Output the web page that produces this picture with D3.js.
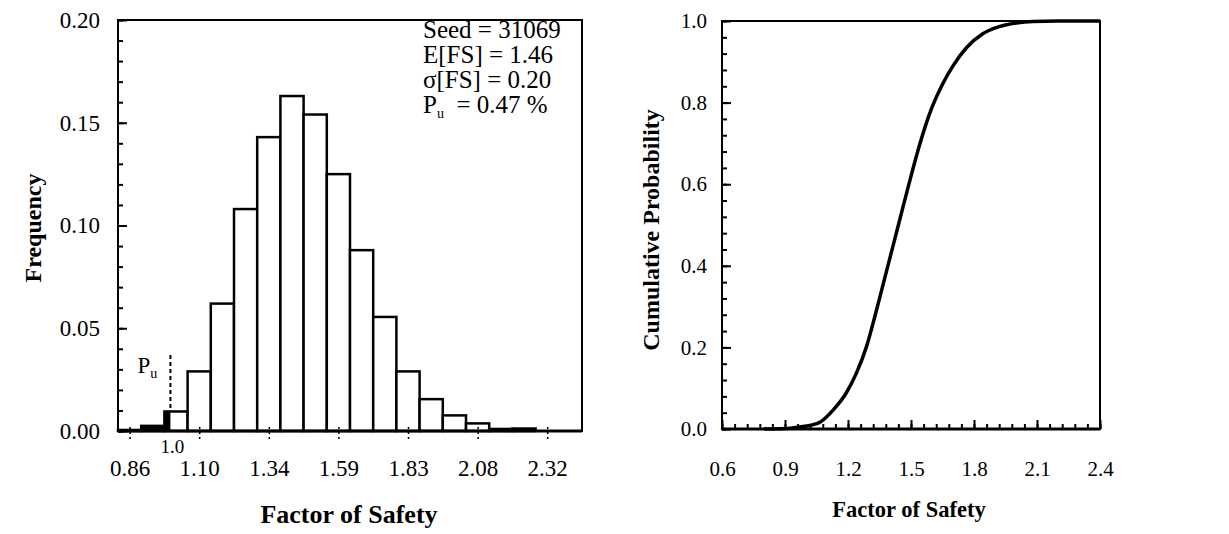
<!DOCTYPE html>
<html>
<head>
<meta charset="utf-8">
<script src="https://cdn.jsdelivr.net/npm/d3@7"></script>
<style>
body { margin: 0; background: #fff; }
text { font-family: "Liberation Serif", "Times New Roman", serif; fill: #000; }
</style>
</head>
<body>
<svg id="chart" width="1229" height="534"></svg>
<script>
// ---- histogram data (20 bins, labels on every 3rd bin centre) ----
var binStart = 0.8164;
var binWidth = 0.0813;
var binFreq = [0.0005, 0.0025, 0.0095, 0.029, 0.062, 0.108, 0.143, 0.163, 0.154, 0.125,
               0.088, 0.0555, 0.029, 0.0155, 0.0076, 0.0037, 0.0010, 0.0012, 0.0, 0.0];
var binTickIndex = [0, 3, 6, 9, 12, 15, 18];
var binTickLabels = ["0.86", "1.10", "1.34", "1.59", "1.83", "2.08", "2.32"];
var freqTicks = [0, 0.05, 0.10, 0.15, 0.20];
var statLines = ["Seed = 31069", "E[FS] = 1.46", "\u03c3[FS] = 0.20"];
var failFS = 1.0;

// ---- cumulative curve ----
var cdfFS   = [0.80, 0.90, 0.97, 1.03, 1.07, 1.13, 1.19, 1.24, 1.29, 1.33, 1.37, 1.40, 1.44,
               1.495, 1.54, 1.59, 1.65, 1.70, 1.765, 1.84, 1.92, 2.00, 2.08, 2.20, 2.40];
var cdfProb = [0.0, 0.001, 0.005, 0.010, 0.018, 0.047, 0.087, 0.137, 0.205, 0.28, 0.36, 0.42, 0.50,
               0.61, 0.695, 0.775, 0.845, 0.89, 0.935, 0.968, 0.986, 0.995, 0.999, 1.0, 1.0];
var cdfTicksX = [0.6, 0.9, 1.2, 1.5, 1.8, 2.1, 2.4];
var cdfTicksY = [0, 0.2, 0.4, 0.6, 0.8, 1.0];

var svg = d3.select("#chart");

drawHistogram();
drawCdf();

function drawHistogram() {
    var box = { left: 118, right: 582, top: 20, bottom: 431 };
    var x = d3.scaleLinear().domain([binStart, binStart + binFreq.length * binWidth]).range([box.left, box.right]);
    var y = d3.scaleLinear().domain([0, 0.2]).range([box.bottom, box.top]);
    var g = svg.append("g");

    // bars
    var bins = binFreq.map(function (f, i) {
        return { lo: binStart + i * binWidth, hi: binStart + (i + 1) * binWidth, f: f };
    });
    g.selectAll("rect.bar").data(bins).enter().append("rect")
        .attr("class", "bar")
        .attr("x", function (d) { return x(d.lo); })
        .attr("y", function (d) { return y(d.f); })
        .attr("width", function (d) { return x(d.hi) - x(d.lo); })
        .attr("height", function (d) { return y(0) - y(d.f); })
        .attr("fill", function (d) { return d.hi <= failFS ? "#000" : "#fff"; })
        .attr("stroke", "#000")
        .attr("stroke-width", 2.5);

    // black part of the bin that straddles FS = 1.0
    var cut = bins.filter(function (d) { return d.lo < failFS && d.hi > failFS; })[0];
    g.append("rect")
        .attr("x", x(cut.lo)).attr("y", y(cut.f))
        .attr("width", x(failFS) - x(cut.lo)).attr("height", y(0) - y(cut.f))
        .attr("fill", "#000");

    // frame
    g.append("rect")
        .attr("x", box.left).attr("y", box.top)
        .attr("width", box.right - box.left).attr("height", box.bottom - box.top)
        .attr("fill", "none").attr("stroke", "#000").attr("stroke-width", 2);
    g.append("line").attr("x1", box.left).attr("x2", box.right)
        .attr("y1", box.bottom).attr("y2", box.bottom)
        .attr("stroke", "#000").attr("stroke-width", 3);

    // y axis: majors every 0.05, minors every 0.01, pointing inside
    var yMinor = d3.range(0, 0.2001, 0.01);
    g.append("g").attr("transform", "translate(" + box.left + ",0)")
        .call(d3.axisLeft(y).tickValues(yMinor).tickSize(-5).tickFormat(""))
        .call(function (a) { a.select(".domain").remove(); a.selectAll("line").attr("stroke-width", 2); });
    g.append("g").attr("transform", "translate(" + box.left + ",0)")
        .call(d3.axisLeft(y).tickValues(freqTicks).tickSize(-9).tickPadding(18).tickFormat(d3.format(".2f")))
        .call(function (a) {
            a.select(".domain").remove();
            a.selectAll("line").attr("stroke-width", 2);
            a.selectAll("text").style("font-size", "23px").style("font-family", "Liberation Serif");
        });

    // x axis: dotted ticks at every third bin centre
    var tickVals = binTickIndex.map(function (i) { return binStart + (i + 0.5) * binWidth; });
    g.append("g").attr("transform", "translate(0," + box.bottom + ")")
        .call(d3.axisBottom(x).tickValues(tickVals).tickSize(9).tickPadding(20)
            .tickFormat(function (d, i) { return binTickLabels[i]; }))
        .call(function (a) {
            a.select(".domain").remove();
            a.selectAll("line").attr("y1", -4).attr("stroke-width", 1.5).attr("stroke-dasharray", "2,3");
            a.selectAll("text").style("font-size", "23px").style("font-family", "Liberation Serif");
        });

    // FS = 1.0 marker
    g.append("text").attr("x", x(failFS) + 2).attr("y", 453)
        .attr("text-anchor", "middle").style("font-size", "19px").text("1.0");
    g.append("line")
        .attr("x1", x(failFS)).attr("x2", x(failFS))
        .attr("y1", y(0.037)).attr("y2", y(cut.f))
        .attr("stroke", "#000").attr("stroke-width", 2).attr("stroke-dasharray", "4,3");
    var pu = g.append("text").attr("x", x(failFS) - 33).attr("y", y(0.028)).style("font-size", "23px");
    pu.append("tspan").text("P");
    pu.append("tspan").attr("dy", 5).style("font-size", "14px").text("u");

    // statistics block
    var stats = g.append("text").style("font-size", "25px");
    statLines.forEach(function (s, i) {
        stats.append("tspan").attr("x", 423).attr("y", 38 + i * 25).text(s);
    });
    var p = g.append("text").attr("x", 423).attr("y", 38 + 3 * 25).style("font-size", "25px");
    p.append("tspan").text("P");
    p.append("tspan").attr("dy", 5).style("font-size", "14px").text("u");
    p.append("tspan").attr("dy", -5).text(" \u00a0= 0.47 %");

    // axis titles
    g.append("text").attr("transform", "translate(41,228) rotate(-90)")
        .attr("text-anchor", "middle").style("font-size", "24px").style("font-weight", "bold").text("Frequency");
    g.append("text").attr("x", 349).attr("y", 523)
        .attr("text-anchor", "middle").style("font-size", "26px").style("font-weight", "bold").text("Factor of Safety");
}

function drawCdf() {
    var box = { left: 722, right: 1100, top: 21, bottom: 429 };
    var x = d3.scaleLinear().domain([0.6, 2.4]).range([box.left, box.right]);
    var y = d3.scaleLinear().domain([0, 1]).range([box.bottom, box.top]);
    var g = svg.append("g");

    g.append("rect")
        .attr("x", box.left).attr("y", box.top)
        .attr("width", box.right - box.left).attr("height", box.bottom - box.top)
        .attr("fill", "none").attr("stroke", "#000").attr("stroke-width", 2);

    // y axis
    g.append("g").attr("transform", "translate(" + box.left + ",0)")
        .call(d3.axisLeft(y).tickValues(d3.range(0, 1.0001, 0.04)).tickSize(-5).tickFormat(""))
        .call(function (a) { a.select(".domain").remove(); a.selectAll("line").attr("stroke-width", 2); });
    g.append("g").attr("transform", "translate(" + box.left + ",0)")
        .call(d3.axisLeft(y).tickValues(cdfTicksY).tickSize(-9).tickPadding(15).tickFormat(d3.format(".1f")))
        .call(function (a) {
            a.select(".domain").remove();
            a.selectAll("line").attr("stroke-width", 2);
            a.selectAll("text").style("font-size", "21px").style("font-family", "Liberation Serif");
        });

    // x axis
    g.append("g").attr("transform", "translate(0," + box.bottom + ")")
        .call(d3.axisBottom(x).tickValues(d3.range(0.6, 2.4001, 0.06)).tickSize(-5).tickFormat(""))
        .call(function (a) { a.select(".domain").remove(); a.selectAll("line").attr("stroke-width", 2); });
    g.append("g").attr("transform", "translate(0," + box.bottom + ")")
        .call(d3.axisBottom(x).tickValues(cdfTicksX).tickSize(-9).tickPadding(32).tickFormat(d3.format(".1f")))
        .call(function (a) {
            a.select(".domain").remove();
            a.selectAll("line").attr("stroke-width", 2);
            a.selectAll("text").style("font-size", "21px").style("font-family", "Liberation Serif");
        });

    g.append("line").attr("x1", box.left).attr("x2", box.right)
        .attr("y1", box.bottom).attr("y2", box.bottom)
        .attr("stroke", "#000").attr("stroke-width", 3);

    var line = d3.line()
        .x(function (d, i) { return x(cdfFS[i]); })
        .y(function (d) { return y(d); })
        .curve(d3.curveMonotoneX);
    g.append("path").datum(cdfProb)
        .attr("d", line)
        .attr("fill", "none").attr("stroke", "#000").attr("stroke-width", 3.5);

    g.append("text").attr("transform", "translate(659,230) rotate(-90)")
        .attr("text-anchor", "middle").style("font-size", "24px").style("font-weight", "bold").text("Cumulative Probability");
    g.append("text").attr("x", 909).attr("y", 517)
        .attr("text-anchor", "middle").style("font-size", "22.5px").style("font-weight", "bold").text("Factor of Safety");
}
</script>
</body>
</html>
